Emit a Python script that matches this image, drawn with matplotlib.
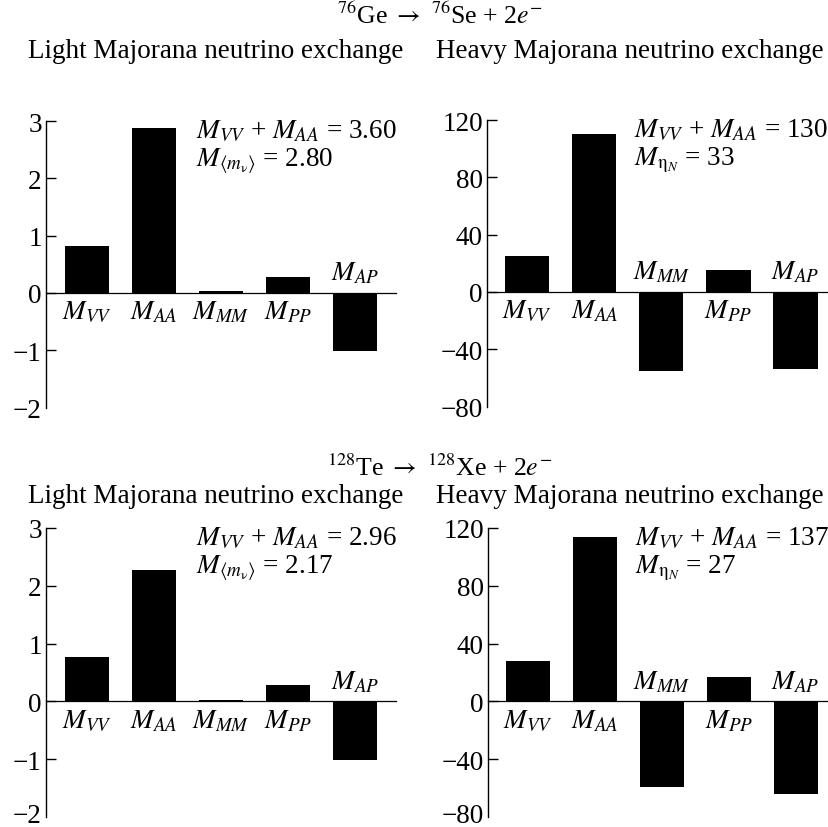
import matplotlib
matplotlib.use("Agg")
import matplotlib.pyplot as plt
from matplotlib.transforms import ScaledTranslation

plt.rcParams['font.family'] = 'serif'
plt.rcParams['font.serif'] = ['Liberation Serif', 'DejaVu Serif']
plt.rcParams['mathtext.fontset'] = 'stix'

# matrix element components for each panel
labels = [r'$M_{VV}$', r'$M_{AA}$', r'$M_{MM}$', r'$M_{PP}$', r'$M_{AP}$']
ge_light = [0.82, 2.88, 0.03, 0.27, -1.01]
ge_heavy = [25, 110, -55, 15, -54]
te_light = [0.77, 2.27, 0.03, 0.28, -1.01]
te_heavy = [28, 114, -59, 17, -64]

light_ticks = [-2, -1, 0, 1, 2, 3]
heavy_ticks = [-80, -40, 0, 40, 80, 120]

ge_notes = [r'$M_{VV}$ + $M_{AA}$ = 3.60' + '\n' + r'$M_{\langle m_\mathrm{ν}\rangle}$ = 2.80',
            r'$M_{VV}$ + $M_{AA}$ = 130' + '\n' + r'$M_{\mathrm{η}_N}$ = 33']
te_notes = [r'$M_{VV}$ + $M_{AA}$ = 2.96' + '\n' + r'$M_{\langle m_\mathrm{ν}\rangle}$ = 2.17',
            r'$M_{VV}$ + $M_{AA}$ = 137' + '\n' + r'$M_{\mathrm{η}_N}$ = 27']

fig = plt.figure(figsize=(8.29, 8.28), dpi=100)
W, H = 829, 828
FS = 19.5


def axes_px(x0, x1, ytop, ybot):
    return fig.add_axes([x0 / W, 1 - ybot / H, (x1 - x0) / W, (ybot - ytop) / H])


def draw(ax, vals, ticks, xlim, note, lift_bottom=False):
    x = range(len(vals))
    ax.bar(x, vals, width=0.66, color='black')
    ax.set_xlim(*xlim)
    ax.set_ylim(ticks[0], ticks[-1])
    ax.axhline(0, color='black', lw=0.9, clip_on=False)
    for s in ['top', 'right', 'bottom']:
        ax.spines[s].set_visible(False)
    ax.spines['left'].set_linewidth(1.0)
    ax.set_xticks([])
    ax.set_yticks(ticks)
    ax.set_yticklabels([str(t).replace('-', '\u2212') for t in ticks])
    ax.tick_params(axis='y', direction='in', length=7.5, width=1.0, labelsize=FS, pad=3)
    ax.yaxis.get_major_ticks()[0].tick1line.set_visible(False)
    if lift_bottom:
        lab = ax.get_yticklabels()[0]
        lab.set_transform(lab.get_transform() + ScaledTranslation(0, 3 / 72, fig.dpi_scale_trans))
    span = ticks[-1] - ticks[0]
    for i, v in enumerate(vals):
        if v >= 0:
            ax.text(i, -0.09 * span, labels[i], ha='center', va='baseline', fontsize=FS)
        else:
            ax.text(i, 0.046 * span, labels[i], ha='center', va='baseline', fontsize=FS)
    ax.text(0.43, 1.01, note, transform=ax.transAxes, ha='left', va='top',
            fontsize=FS, linespacing=1.08)


a1 = axes_px(46, 396, 122, 408.5)
draw(a1, ge_light, light_ticks, (-0.61, 4.61), ge_notes[0])
a2 = axes_px(487, 829, 121, 407.5)
draw(a2, ge_heavy, heavy_ticks, (-0.6, 4.5), ge_notes[1])
a3 = axes_px(46, 396, 529, 818)
draw(a3, te_light, light_ticks, (-0.61, 4.61), te_notes[0], lift_bottom=True)
a4 = axes_px(488, 829, 529, 818)
draw(a4, te_heavy, heavy_ticks, (-0.6, 4.5), te_notes[1], lift_bottom=True)

FT = 18.5
fig.text(440 / W, 1 - 16 / H, r'$^{76}$Ge $\rightarrow$ $^{76}$Se + 2$e^{-}$',
         ha='center', va='center', fontsize=FT)
fig.text(216 / W, 1 - 52 / H, 'Light Majorana neutrino exchange', ha='center', va='center', fontsize=FS)
fig.text(630 / W, 1 - 52 / H, 'Heavy Majorana neutrino exchange', ha='center', va='center', fontsize=FS)
fig.text(440 / W, 1 - 468 / H, r'$^{128}$Te $\rightarrow$ $^{128}$Xe + 2$e^{-}$',
         ha='center', va='center', fontsize=FT)
fig.text(216 / W, 1 - 497 / H, 'Light Majorana neutrino exchange', ha='center', va='center', fontsize=FS)
fig.text(630 / W, 1 - 497 / H, 'Heavy Majorana neutrino exchange', ha='center', va='center', fontsize=FS)

fig.savefig('out.png', dpi=100)
